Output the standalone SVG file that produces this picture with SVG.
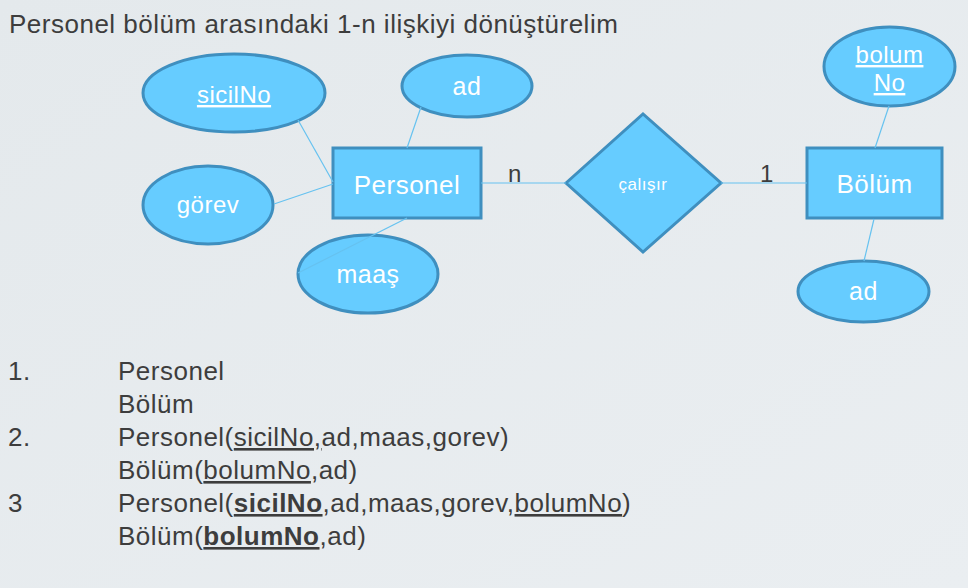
<svg xmlns="http://www.w3.org/2000/svg" width="968" height="588" viewBox="0 0 968 588">
<defs>
<linearGradient id="bg" x1="0" y1="0" x2="1" y2="1">
<stop offset="0" stop-color="#e4e9ec"/>
<stop offset="1" stop-color="#eaeef1"/>
</linearGradient>
</defs>
<style>
.shape{fill:#66ccff;stroke:#3f8fbf;stroke-width:3}
.lbl{font-family:"Liberation Sans",Arial,sans-serif;fill:#ffffff;text-anchor:middle;letter-spacing:0.5px}
.ent{font-size:26px}
.att{font-size:24px}
.conn line{stroke:#66c2f0;stroke-width:1.2}
.txt{font-family:"Liberation Sans",Arial,sans-serif;fill:#3d3d3d;font-size:26px;letter-spacing:0.5px}
.u{text-decoration:underline}
.b{font-weight:bold}
</style>
<rect width="968" height="588" fill="url(#bg)"/>
<text class="txt" x="9" y="33">Personel bölüm arasındaki 1-n ilişkiyi dönüştürelim</text>

<g id="sicilNo"><ellipse class="shape" cx="234" cy="93" rx="91" ry="39"/><text class="lbl att u" x="234" y="103">sicilNo</text></g>
<g id="ad1"><ellipse class="shape" cx="467" cy="86" rx="65" ry="31"/><text class="lbl att" x="467" y="95" style="font-size:25px">ad</text></g>
<g id="gorev"><ellipse class="shape" cx="208" cy="205" rx="65" ry="39"/><text class="lbl att" x="208" y="213">görev</text></g>
<g id="maas"><ellipse class="shape" cx="368" cy="274" rx="70" ry="39"/><text class="lbl att" x="368" y="283" style="font-size:25px">maaş</text></g>
<g id="personel"><rect class="shape" x="333" y="148" width="148" height="70"/><text class="lbl ent" x="407" y="194">Personel</text></g>
<g id="calisir"><polygon class="shape" points="566,183 643,114 721,183 643,252"/><text class="lbl" x="643" y="190" style="font-size:17px">çalışır</text></g>
<g id="bolum"><rect class="shape" x="807" y="148" width="135" height="70"/><text class="lbl ent" x="874.5" y="193">Bölüm</text></g>
<g id="bolumNo"><ellipse class="shape" cx="889.5" cy="66.5" rx="65.5" ry="39.5"/><text class="lbl att u" x="889.5" y="63">bolum</text><text class="lbl att u" x="889.5" y="91">No</text></g>
<g id="ad2"><ellipse class="shape" cx="863.5" cy="291.5" rx="65.5" ry="30.5"/><text class="lbl att" x="863.5" y="300" style="font-size:25px">ad</text></g>

<g class="conn" id="connectors">
<line x1="298" y1="120" x2="333" y2="182"/>
<line x1="274" y1="204" x2="333" y2="184"/>
<line x1="421" y1="107" x2="407" y2="148"/>
<line x1="407" y1="218" x2="298" y2="273"/>
<line x1="481" y1="183" x2="566" y2="183"/>
<line x1="721" y1="183" x2="807" y2="183"/>
<line x1="889" y1="106" x2="875" y2="148"/>
<line x1="874" y1="219" x2="864" y2="261"/>
</g>
<text class="txt" x="508" y="182" style="font-size:24px">n</text>
<text class="txt" x="760" y="182" style="font-size:24px">1</text>

<g id="list">
<text class="txt" x="8" y="380">1.</text>
<text class="txt" x="118" y="380">Personel</text>
<text class="txt" x="118" y="413">Bölüm</text>
<text class="txt" x="8" y="446">2.</text>
<text class="txt" x="118" y="446">Personel(<tspan class="u">sicilNo,</tspan>ad,maas,gorev)</text>
<text class="txt" x="118" y="479">Bölüm(<tspan class="u">bolumNo</tspan>,ad)</text>
<text class="txt" x="8" y="512">3</text>
<text class="txt" x="118" y="512">Personel(<tspan class="u b">sicilNo</tspan>,ad,maas,gorev,<tspan class="u">bolumNo</tspan>)</text>
<text class="txt" x="118" y="545">Bölüm(<tspan class="u b">bolumNo</tspan>,ad)</text>
</g>
</svg>
